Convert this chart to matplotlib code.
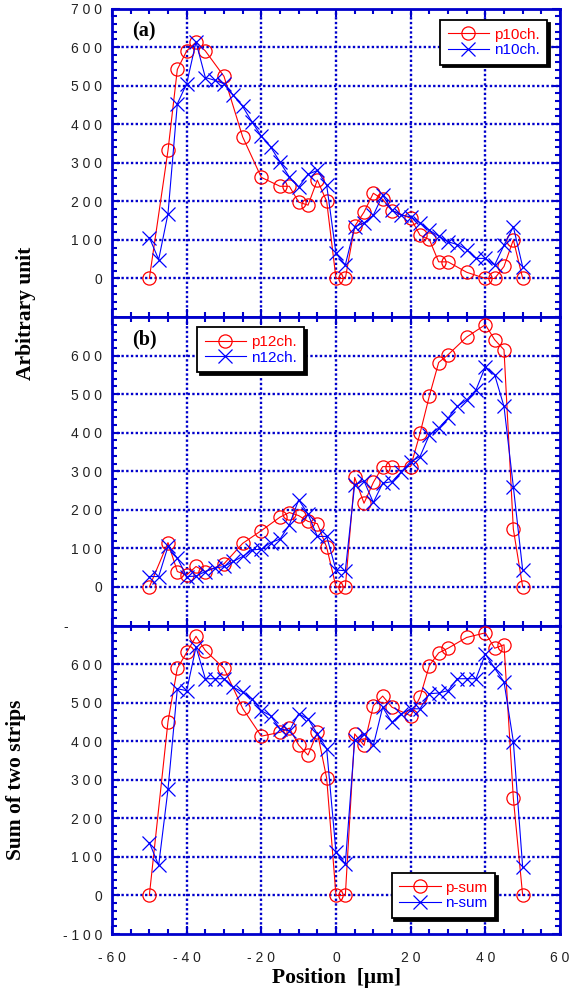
import numpy as np
import matplotlib
matplotlib.use("Agg")
import matplotlib.pyplot as plt
from matplotlib.ticker import MultipleLocator, FixedLocator, FuncFormatter

# positions (um)
x_p = [-50, -45, -42.5, -40, -37.5, -35, -30, -25, -20, -15, -12.5, -10, -7.5, -5, -2.5,
       0, 2.5, 5, 7.5, 10, 12.5, 15, 20, 22.5, 25, 27.5, 30, 35, 40, 42.5, 45, 47.5, 50]
x_n = [-50, -47.5, -45, -42.5, -40, -37.5, -35, -32.5, -30, -27.5, -25, -22.5, -20, -17.5,
       -15, -12.5, -10, -7.5, -5, -2.5, 0, 2.5, 5, 7.5, 10, 12.5, 15, 17.5, 20, 22.5, 25,
       27.5, 30, 32.5, 35, 37.5, 40, 42.5, 45, 47.5, 50]

# (a) 10 ch
p10 = [0, 332, 542, 590, 613, 590, 524, 367, 262, 239, 239, 198, 190, 255, 200,
       0, 0, 135, 172, 221, 205, 176, 156, 112, 101, 43, 43, 16, 0, 0, 31, 100, 0]
n10 = [106, 49, 168, 453, 505, 613, 521, 514, 505, 475, 446, 406, 369, 341, 302, 263, 237,
       270, 280, 242, 65, 35, 134, 144, 164, 216, 177, 164, 160, 144, 125, 110, 95, 88, 75,
       52, 52, 35, 86, 134, 30]

# (b) 12 ch
p12 = [0, 115, 40, 31, 53, 40, 60, 113, 146, 181, 193, 185, 170, 164, 103,
       0, 0, 284, 217, 271, 312, 312, 312, 398, 495, 582, 602, 648, 680, 641, 615, 150, 0]
n12 = [27, 27, 105, 75, 27, 28, 40, 49, 53, 66, 79, 96, 98, 115, 124, 161, 226, 189, 131,
       131, 44, 42, 265, 275, 219, 269, 273, 299, 325, 338, 394, 412, 438, 468, 485, 511,
       571, 550, 468, 260, 44]

# sum of two strips
psum = [0, 451, 589, 630, 672, 635, 589, 485, 413, 423, 434, 390, 364, 423, 304,
        0, 0, 419, 389, 492, 517, 488, 466, 514, 596, 629, 641, 669, 681, 641, 650, 252, 0]
nsum = [137, 78, 275, 536, 531, 644, 562, 562, 562, 540, 527, 510, 479, 466, 432, 427, 471,
        458, 419, 380, 112, 82, 402, 419, 389, 488, 449, 471, 484, 484, 523, 525, 531, 562,
        562, 562, 626, 589, 554, 399, 73]

AX = '#0000cc'
RED = '#ff0000'
BLUE = '#0000ff'

def spaced(v, pos):
    return ' '.join(str(int(round(v))))

fig = plt.figure(figsize=(5.72, 9.91), dpi=100)
left, width = 112 / 572, 448 / 572
h = 308.5 / 991
bottoms = [1 - 317 / 991, 1 - 625.5 / 991, 1 - 934 / 991]

panels = [
    (p10, n10, 'p10ch.', 'n10ch.', '(a)', 'upper right', (0.971, 0.963), range(0, 701, 100)),
    (p12, n12, 'p12ch.', 'n12ch.', '(b)', 'upper left', (0.19, 0.966), range(0, 601, 100)),
    (psum, nsum, 'p-sum', 'n-sum', None, 'lower right', (0.855, 0.052), range(-100, 601, 100)),
]

axes = []
for i, (yp, yn, lp, ln, tag, loc, anchor, ylabs) in enumerate(panels):
    ax = fig.add_axes([left, bottoms[i], width, h])
    ax.set_xlim(-60, 60)
    ax.set_ylim(-100, 700)

    ax.plot(x_p, yp, color=RED, lw=0.8, marker='o', ms=9.5, mfc='none', mec=RED, mew=0.9,
            label=lp, zorder=3)
    ax.plot(x_n, yn, color=BLUE, lw=0.8, marker='x', ms=9.5, mec=BLUE, mew=0.9,
            label=ln, zorder=3)

    # grid at major positions
    for gx in [-40, -20, 0, 20, 40]:
        ax.axvline(gx, color=AX, lw=1.7, ls=(0, (1, 1)), zorder=1)
    for gy in range(0, 601, 100):
        ax.axhline(gy, color=AX, lw=1.7, ls=(0, (1, 1)), zorder=1)

    ax.xaxis.set_major_locator(MultipleLocator(20))
    ax.xaxis.set_minor_locator(MultipleLocator(5))
    ax.yaxis.set_major_locator(FixedLocator(list(ylabs)))
    ax.yaxis.set_minor_locator(MultipleLocator(20))
    ax.yaxis.set_major_formatter(FuncFormatter(spaced))
    ax.xaxis.set_major_formatter(FuncFormatter(spaced))
    ax.tick_params(which='both', direction='in', top=True, right=True, color=AX,
                   labelcolor='#222222', labelsize=10, width=1.5)
    ax.tick_params(which='major', length=6)
    ax.tick_params(axis='y', which='major', pad=7)
    ax.tick_params(axis='x', which='major', pad=12)
    ax.tick_params(which='minor', length=3.5)
    for lab in ax.get_yticklabels() + ax.get_xticklabels():
        lab.set_family(['Liberation Sans', 'DejaVu Sans'])
    if i < 2:
        ax.tick_params(labelbottom=False)
    for s in ax.spines.values():
        s.set_color(AX)
        s.set_linewidth(2)

    leg = ax.legend(loc=loc, bbox_to_anchor=anchor, fancybox=False, shadow={'color': 'k', 'alpha': 1},
                    edgecolor='k', framealpha=1, labelcolor='linecolor', handlelength=2.7,
                    borderpad=0.5, labelspacing=0.1, handletextpad=0.3, borderaxespad=0,
                    prop={'family': 'Liberation Sans', 'size': 11})
    leg.get_frame().set_linewidth(1.3)
    leg.set_zorder(5)

    if tag:
        ax.text(0.045, 0.927, tag, transform=ax.transAxes, fontsize=14.5, fontweight='bold',
                family='Liberation Serif', va='center', ha='left')
    axes.append(ax)

# leftover dash of the cut-off tick label
fig.text(66 / 572, 1 - 627 / 991, '-', fontsize=10, color='#222222', ha='center', va='center',
         family='Liberation Sans')

fig.text(26 / 572, 1 - 313 / 991, 'Arbitrary unit', rotation=90, fontsize=15.5, fontweight='bold',
         family='Liberation Serif', ha='center', va='center')
fig.text(16 / 572, 1 - 780 / 991, 'Sum of two strips', rotation=90, fontsize=15.5, fontweight='bold',
         family='Liberation Serif', ha='center', va='center')
fig.text(337 / 572, 1 - 978 / 991, 'Position  [\u03bcm]', fontsize=15.5, fontweight='bold',
         family=['Liberation Serif', 'DejaVu Serif'], ha='center', va='center')

plt.savefig('out.png', dpi=100)
